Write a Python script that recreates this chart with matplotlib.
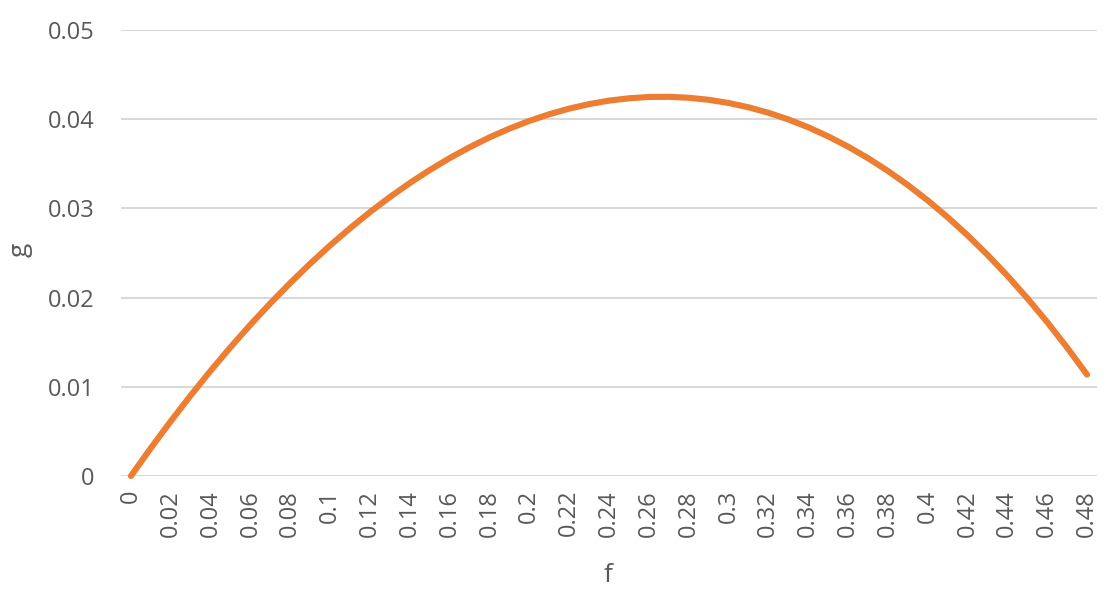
import matplotlib
matplotlib.use("Agg")
import matplotlib.pyplot as plt

f_values = [0.00, 0.01, 0.02, 0.03, 0.04, 0.05, 0.06, 0.07, 0.08, 0.09,
            0.10, 0.11, 0.12, 0.13, 0.14, 0.15, 0.16, 0.17, 0.18, 0.19,
            0.20, 0.21, 0.22, 0.23, 0.24, 0.25, 0.26, 0.27, 0.28, 0.29,
            0.30, 0.31, 0.32, 0.33, 0.34, 0.35, 0.36, 0.37, 0.38, 0.39,
            0.40, 0.41, 0.42, 0.43, 0.44, 0.45, 0.46, 0.47, 0.48]
g_values = [0.0, 0.003137, 0.006149, 0.009036, 0.011801, 0.014444, 0.016966,
            0.019367, 0.021647, 0.023810, 0.025853, 0.027778, 0.029586,
            0.031275, 0.032847, 0.034300, 0.035639, 0.036857, 0.037960,
            0.038944, 0.039809, 0.040556, 0.041185, 0.041692, 0.042080,
            0.042345, 0.042490, 0.042510, 0.042405, 0.042177, 0.041821,
            0.041337, 0.040724, 0.039976, 0.039097, 0.038081, 0.036928,
            0.035636, 0.034202, 0.032623, 0.030895, 0.029018, 0.026986,
            0.024797, 0.022449, 0.019934, 0.017252, 0.014397, 0.011364]
y_ticks = [0.0, 0.01, 0.02, 0.03, 0.04, 0.05]
x_label = "f"
y_label = "g"

text_color = "#595959"
grid_color = "#D9D9D9"
line_color = "#ED7D31"
font = ["Open Sans", "DejaVu Sans"]

fig = plt.figure(figsize=(11.10, 5.97), dpi=100)
ax = fig.add_axes([121 / 1110, 1 - 476 / 597, (1097 - 121) / 1110, (476 - 30) / 597])

x_pos = list(range(len(f_values)))
ax.plot(x_pos, g_values, color=line_color, linewidth=4.4,
        solid_capstyle="round", solid_joinstyle="round", zorder=3,
        clip_on=False)

ax.set_xlim(-0.5, len(f_values) - 0.5)
ax.set_ylim(0, 0.05)

ax.set_yticks(y_ticks)
ax.set_yticklabels([f"{v:g}" for v in y_ticks], fontsize=17, color=text_color,
                   fontfamily=font)
ax.set_xticks(x_pos[::2])
ax.set_xticklabels([f"{v:g}" for v in f_values[::2]], rotation=90, fontsize=17,
                   color=text_color, fontfamily=font, va="top", ha="center")
ax.tick_params(axis="y", length=0, pad=19)
ax.tick_params(axis="x", length=0, pad=10)

ax.grid(axis="y", color=grid_color, linewidth=1.5, zorder=0)
ax.set_axisbelow(True)
for s in ax.spines.values():
    s.set_visible(False)

fig.text(608 / 1110, 1 - 575 / 597, x_label, fontsize=19, color=text_color,
         fontfamily=font, ha="center", va="center")
fig.text(20 / 1110, 1 - 250 / 597, y_label, fontsize=19, color=text_color,
         fontfamily=font, ha="center", va="center", rotation=90)

fig.savefig("out.png", dpi=100, facecolor="white")
